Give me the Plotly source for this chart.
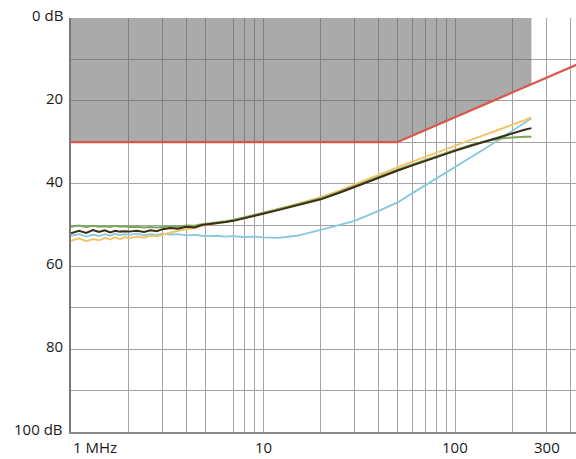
import math
import plotly.graph_objects as go

# Frequencies (MHz)
freq = [1.0, 1.1, 1.2, 1.3, 1.4, 1.5, 1.6, 1.7, 1.8, 1.9, 2.0, 2.2, 2.4, 2.6, 2.8,
        3.0, 3.3, 3.6, 4.0, 4.4, 4.8, 5.3, 5.8, 6.4, 7.0, 8.0, 9.0, 10, 12, 15,
        20, 25, 30, 40, 50, 60, 70, 80, 100, 120, 150, 180, 200, 230, 250]

black_db = [52.0, 51.4, 51.9, 51.2, 51.7, 51.3, 51.8, 51.4, 51.6, 51.5, 51.6, 51.4, 51.7, 51.3, 51.5,
            51.0, 50.7, 50.9, 50.4, 50.6, 50.0, 49.8, 49.6, 49.3, 49.0, 48.4, 47.9, 47.3, 46.4, 45.2,
            43.8, 42.2, 40.8, 38.5, 36.9, 35.6, 34.5, 33.6, 32.1, 30.9, 29.5, 28.4, 27.8, 27.0, 26.6]

yellow_db = [53.8, 53.2, 53.9, 53.4, 53.7, 53.1, 53.5, 53.0, 53.4, 52.9, 53.2, 52.8, 53.1, 52.6, 52.7,
             52.3, 51.8, 51.4, 51.0, 50.7, 50.2, 49.9, 49.6, 49.2, 48.9, 48.3, 47.7, 47.1, 46.1, 44.9,
             43.3, 41.7, 40.2, 37.8, 36.1, 34.7, 33.5, 32.5, 30.9, 29.5, 27.9, 26.5, 25.7, 24.7, 24.0]

green_db = [50.4, 50.1, 50.5, 50.2, 50.4, 50.3, 50.5, 50.2, 50.4, 50.3, 50.5, 50.4, 50.6, 50.5, 50.6,
            50.5, 50.3, 50.4, 50.1, 50.2, 49.8, 49.6, 49.4, 49.1, 48.8, 48.2, 47.7, 47.1, 46.2, 45.0,
            43.6, 42.0, 40.6, 38.3, 36.7, 35.4, 34.3, 33.4, 31.9, 30.7, 29.6, 29.0, 28.8, 28.7, 28.7]

blue_db = [52.6, 52.2, 52.8, 52.3, 52.7, 52.2, 52.6, 52.1, 52.5, 52.2, 52.4, 52.1, 52.5, 52.2, 52.4,
           52.1, 52.3, 52.2, 52.5, 52.4, 52.6, 52.7, 52.6, 52.8, 52.7, 52.9, 52.8, 53.0, 53.1, 52.6,
           51.2, 50.0, 49.0, 46.6, 44.6, 42.3, 40.4, 38.8, 36.2, 33.8, 31.0, 28.6, 27.2, 25.4, 24.2]

# Limit line (red) and shaded mask
limit_freq = [1, 50, 430]
limit_db = [30, 30, 11.3]
mask_freq = [1, 50, 250, 250, 1]
mask_db = [30, 30, 16.0, 0, 0]

# Axis ticks / gridlines
x_grid = [1, 2, 3, 4, 5, 7, 8, 9, 10, 20, 30, 40, 50, 60, 70, 80, 90, 100, 200, 300, 400]
y_grid = [10, 20, 30, 40, 50, 60, 70, 80, 90, 100]
x_label_vals = [1, 10, 100, 300]
x_label_text = ["1 MHz", "10", "100", "300"]
y_label_vals = [0, 20, 40, 60, 80, 100]
y_label_text = ["0 dB", "20", "40", "60", "80", "100 dB"]

fig = go.Figure()

fig.add_trace(go.Scatter(x=mask_freq, y=mask_db, fill="toself", mode="none",
                         fillcolor="rgba(101,101,101,0.55)", hoverinfo="skip", showlegend=False))

fig.add_trace(go.Scatter(x=freq, y=blue_db, mode="lines",
                         line=dict(color="#86c8e0", width=1.8), showlegend=False))
fig.add_trace(go.Scatter(x=freq, y=yellow_db, mode="lines",
                         line=dict(color="#f2c46a", width=2), showlegend=False))
fig.add_trace(go.Scatter(x=freq, y=green_db, mode="lines",
                         line=dict(color="#7aa85a", width=2), showlegend=False))
fig.add_trace(go.Scatter(x=freq, y=black_db, mode="lines",
                         line=dict(color="#3b2d14", width=2), showlegend=False))
fig.add_trace(go.Scatter(x=limit_freq, y=limit_db, mode="lines",
                         line=dict(color="#d9574a", width=2.2), showlegend=False))

font = dict(family="Open Sans, Noto Sans, sans-serif", size=15, color="#1a1a1a")

annotations = []
for v, t in zip(x_label_vals, x_label_text):
    annotations.append(dict(x=math.log10(v), y=0, xref="x", yref="paper", text=t,
                            showarrow=False, xanchor="left" if t == "1 MHz" else "center",
                            yanchor="top", yshift=-3, font=font))
for v, t in zip(y_label_vals, y_label_text):
    annotations.append(dict(x=0, y=v, xref="paper", yref="y", text=t, showarrow=False,
                            xanchor="right", yanchor="middle", xshift=-6, yshift=3, font=font))

fig.update_layout(
    width=576, height=459,
    margin=dict(l=71, r=0, t=18, b=27),
    paper_bgcolor="white", plot_bgcolor="white",
    annotations=annotations,
    xaxis=dict(type="log", range=[0, 2.63], tickvals=x_grid, showticklabels=False,
               ticks="", showgrid=True, gridcolor="#a3a3a3", gridwidth=1.3,
               showline=True, linecolor="#8a8a8a", linewidth=2, zeroline=False),
    yaxis=dict(range=[100, 0], tickvals=y_grid, showticklabels=False, ticks="",
               showgrid=True, gridcolor="#a3a3a3", gridwidth=1.3,
               showline=True, linecolor="#777777", linewidth=2, zeroline=False),
)

fig.write_html("out.html", config={"displayModeBar": False},
               post_script="document.body.style.margin='0';document.body.style.overflow='hidden';")
